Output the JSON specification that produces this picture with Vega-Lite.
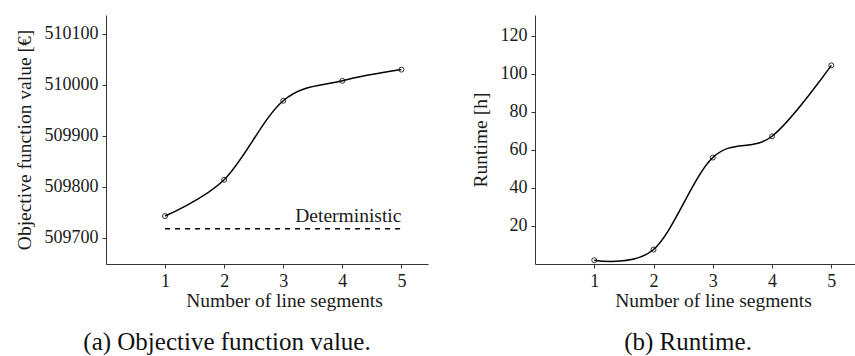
{
  "$schema": "https://vega.github.io/schema/vega-lite/v6.json",
  "padding": {"left": 14, "top": 15, "right": 0, "bottom": 0},
  "background": "white",
  "datasets": {
    "results": [
      {"segments": 1, "objective": 509743, "runtime_h": 2.0},
      {"segments": 2, "objective": 509814, "runtime_h": 7.6},
      {"segments": 3, "objective": 509969, "runtime_h": 56.0},
      {"segments": 4, "objective": 510008, "runtime_h": 67.2},
      {"segments": 5, "objective": 510030, "runtime_h": 104.5}
    ],
    "baseline": [
      {"label": "Deterministic", "from": 1, "to": 5, "objective": 509718}
    ]
  },
  "config": {
    "font": "Liberation Serif",
    "view": {"stroke": null},
    "axis": {
      "grid": false,
      "domainColor": "#333333",
      "tickColor": "#333333",
      "domainWidth": 1,
      "tickWidth": 1,
      "tickSize": 4,
      "labelColor": "#1a1a1a",
      "titleColor": "#1a1a1a",
      "labelFont": "Liberation Serif",
      "titleFont": "Liberation Serif",
      "labelFontSize": 18,
      "titleFontSize": 19.5,
      "titleFontWeight": "normal",
      "labelPadding": 4
    },
    "title": {"font": "Liberation Serif", "fontSize": 25, "fontWeight": "normal", "color": "#111111", "orient": "bottom", "anchor": "middle", "offset": 20}
  },
  "spacing": 42,
  "hconcat": [
    {
      "width": 322,
      "height": 249,
      "title": {"text": "(a) Objective function value.", "dx": -40},
      "layer": [
        {
          "data": {"name": "baseline"},
          "mark": {"type": "rule", "color": "black", "strokeWidth": 1.5, "strokeDash": [5, 5]},
          "encoding": {
            "x": {"field": "from", "type": "quantitative"},
            "x2": {"field": "to"},
            "y": {"field": "objective", "type": "quantitative"}
          }
        },
        {
          "data": {"name": "baseline"},
          "mark": {"type": "text", "align": "right", "baseline": "bottom", "dy": -3, "fontSize": 19.5, "color": "#1a1a1a"},
          "encoding": {
            "x": {"field": "to", "type": "quantitative"},
            "y": {"field": "objective", "type": "quantitative"},
            "text": {"field": "label"}
          }
        },
        {
          "data": {"name": "results"},
          "mark": {"type": "line", "interpolate": "cardinal", "tension": 0, "color": "black", "strokeWidth": 1.5},
          "encoding": {
            "x": {
              "field": "segments", "type": "quantitative",
              "scale": {"domain": [0, 5.45], "nice": false, "zero": false},
              "axis": {"values": [1, 2, 3, 4, 5], "format": "d", "title": "Number of line segments", "titleX": 178, "titleAlign": "center", "titlePadding": 1}
            },
            "y": {
              "field": "objective", "type": "quantitative",
              "scale": {"domain": [509649, 510137], "nice": false, "zero": false},
              "axis": {"values": [509700, 509800, 509900, 510000, 510100], "format": "d", "title": "Objective function value [€]", "titlePadding": 10}
            }
          }
        },
        {
          "data": {"name": "results"},
          "mark": {"type": "point", "filled": false, "color": "black", "size": 25, "strokeWidth": 0.8, "opacity": 1},
          "encoding": {
            "x": {"field": "segments", "type": "quantitative"},
            "y": {"field": "objective", "type": "quantitative"}
          }
        },
        {
          "mark": {"type": "point", "shape": "triangle-up", "filled": true, "color": "black", "size": 30, "opacity": 1},
          "encoding": {"x": {"datum": 0}, "y": {"datum": 510137}}
        },
        {
          "mark": {"type": "point", "shape": "triangle-right", "filled": true, "color": "black", "size": 30, "opacity": 1},
          "encoding": {"x": {"datum": 5.45}, "y": {"datum": 509649}}
        }
      ]
    },
    {
      "width": 320,
      "height": 249,
      "title": {"text": "(b) Runtime.", "dx": -7},
      "layer": [
        {
          "data": {"name": "results"},
          "mark": {"type": "line", "interpolate": "cardinal", "tension": 0, "color": "black", "strokeWidth": 1.5},
          "encoding": {
            "x": {
              "field": "segments", "type": "quantitative",
              "scale": {"domain": [0, 5.4], "nice": false, "zero": false},
              "axis": {"values": [1, 2, 3, 4, 5], "format": "d", "title": "Number of line segments", "titleX": 178, "titleAlign": "center", "titlePadding": 1}
            },
            "y": {
              "field": "runtime_h", "type": "quantitative",
              "scale": {"domain": [0, 131], "nice": false, "zero": false},
              "axis": {"values": [20, 40, 60, 80, 100, 120], "title": "Runtime [h]", "titlePadding": 10}
            }
          }
        },
        {
          "data": {"name": "results"},
          "mark": {"type": "point", "filled": false, "color": "black", "size": 25, "strokeWidth": 0.8, "opacity": 1},
          "encoding": {
            "x": {"field": "segments", "type": "quantitative"},
            "y": {"field": "runtime_h", "type": "quantitative"}
          }
        },
        {
          "mark": {"type": "point", "shape": "triangle-up", "filled": true, "color": "black", "size": 30, "opacity": 1},
          "encoding": {"x": {"datum": 0}, "y": {"datum": 131}}
        },
        {
          "mark": {"type": "point", "shape": "triangle-right", "filled": true, "color": "black", "size": 30, "opacity": 1},
          "encoding": {"x": {"datum": 5.4}, "y": {"datum": 0}}
        }
      ]
    }
  ]
}
